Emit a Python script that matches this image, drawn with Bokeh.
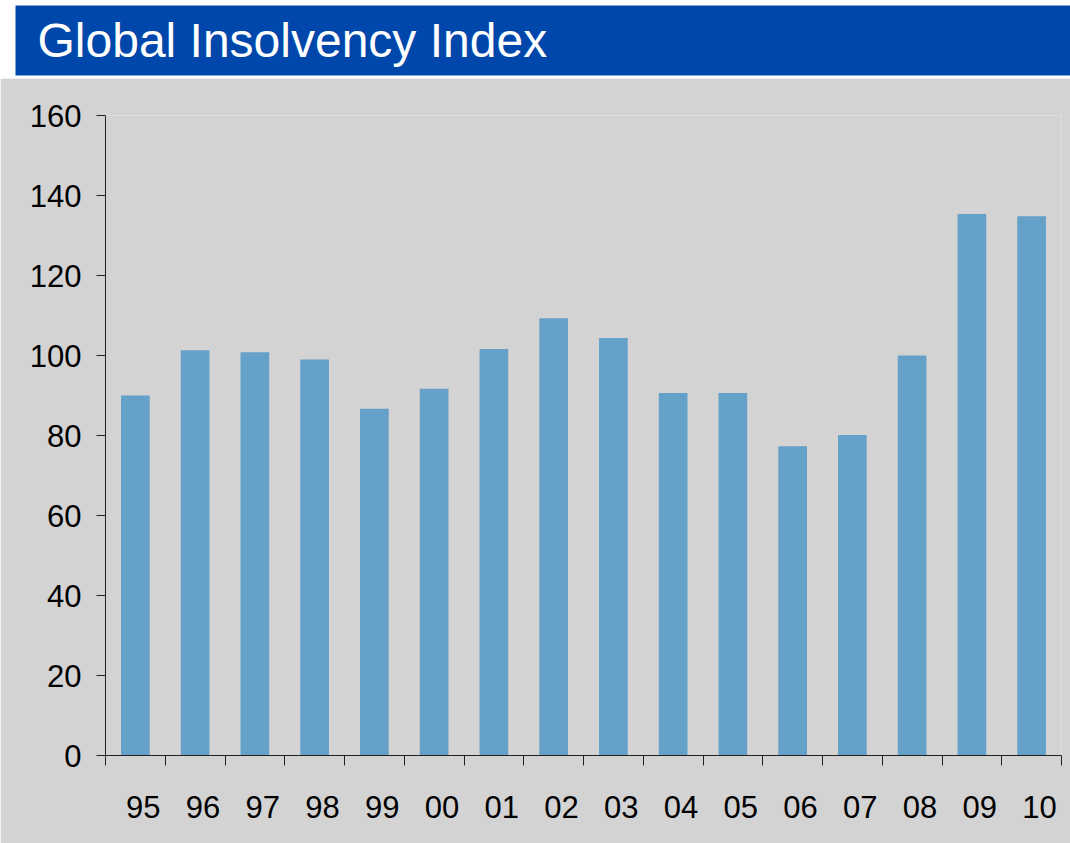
from bokeh.plotting import figure
from bokeh.models import (Range1d, LinearAxis, FixedTicker, Label,
                          ColumnDataSource)
from bokeh.layouts import column
from bokeh.embed import file_html
from bokeh.resources import INLINE

# ---- data ----
years = ["95", "96", "97", "98", "99", "00", "01", "02",
         "03", "04", "05", "06", "07", "08", "09", "10"]
index_values = [90.0, 101.3, 100.8, 99.0, 86.7, 91.7, 101.6, 109.3,
                104.4, 90.6, 90.6, 77.3, 80.1, 100.0, 135.4, 134.8]
y_ticks = [0, 20, 40, 60, 80, 100, 120, 140, 160]
title_text = "Global Insolvency Index"

FONT = "Liberation Sans"
BLUE = "#0047AB"
GRAY = "#D3D3D3"
BAR = "#64A0C8"
LABEL_SHIFT = 0.13   # tick labels sit slightly right of bar centres

n = len(years)
centers = [i + 0.5 for i in range(n)]

# ---- title bar ----
tp = figure(width=1070, height=78, output_backend="svg", toolbar_location=None,
            x_range=Range1d(0, 1055), y_range=Range1d(0, 70),
            min_border_left=15, min_border_right=0, min_border_top=5,
            min_border_bottom=3, x_axis_location=None, y_axis_location=None)
tp.frame_align = False
tp.background_fill_color = BLUE
tp.border_fill_color = "white"
tp.outline_line_color = None
tp.xgrid.visible = False
tp.ygrid.visible = False
tp.add_layout(Label(x=22, y=35, text=title_text, text_color="white",
                    text_font=FONT, text_font_size="48px",
                    text_baseline="alphabetic", text_align="left"))

# ---- main chart ----
src = ColumnDataSource(dict(x=centers, value=index_values, year=years))
p = figure(width=1070, height=765, output_backend="svg", toolbar_location=None,
           x_range=Range1d(0, n), y_range=Range1d(0, 160),
           min_border_left=105, min_border_right=9, min_border_top=37,
           min_border_bottom=88, x_axis_location=None)
p.frame_align = False
p.background_fill_color = GRAY
p.border_fill_color = GRAY
p.outline_line_color = None
p.xgrid.visible = False
p.ygrid.visible = False

p.vbar(x="x", top="value", width=0.48, source=src,
       fill_color=BAR, line_color=None)

# y axis
ya = p.yaxis[0]
ya.ticker = FixedTicker(ticks=y_ticks)
ya.axis_line_color = "#222222"
ya.major_tick_line_color = "#222222"
ya.major_tick_out = 9
ya.major_tick_in = 0
ya.minor_tick_line_color = None
ya.major_label_text_font = FONT
ya.major_label_text_font_size = "31px"
ya.major_label_text_color = "black"
ya.major_label_standoff = 15

# x tick axis (ticks at category boundaries)
xt = LinearAxis(ticker=FixedTicker(ticks=list(range(n + 1))),
                major_label_overrides={i: "" for i in range(n + 1)},
                major_label_text_font_size="1px",
                major_label_standoff=0,
                axis_line_color="#222222", major_tick_line_color="#222222",
                major_tick_out=10, major_tick_in=0, minor_tick_line_color=None)
p.add_layout(xt, "below")

# x label axis (category labels near bar centres)
label_pos = [c + LABEL_SHIFT for c in centers]
xl = LinearAxis(ticker=FixedTicker(ticks=label_pos),
                major_label_overrides={c: y for c, y in zip(label_pos, years)},
                axis_line_color=None, major_tick_line_color=None,
                minor_tick_line_color=None,
                major_tick_out=0, major_tick_in=0,
                major_label_text_font=FONT,
                major_label_text_font_size="31px",
                major_label_text_color="black",
                major_label_standoff=30)
p.add_layout(xl, "below")

layout = column(tp, p, spacing=0)
open("out.html", "w").write(file_html(layout, INLINE))
